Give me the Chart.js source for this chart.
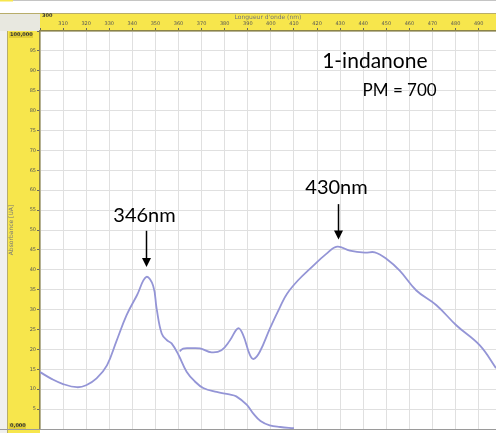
<!DOCTYPE html>
<html>
<head>
<meta charset="utf-8">
<script src="https://cdn.jsdelivr.net/npm/chart.js@4.4.0/dist/chart.umd.min.js"></script>
<style>
  html, body { margin: 0; padding: 0; background: #fff; overflow: hidden; }
  #wrap { width: 496px; height: 433px; position: relative; }
</style>
</head>
<body>
<div id="wrap"><canvas id="spectrum" width="496" height="433"></canvas></div>
<script>
// lower branch (300 -> 410 nm)
const lowNm = [300, 305, 310, 316, 320, 324.5, 329, 333, 337.5, 342, 346, 349, 350.5, 352.7, 355, 357, 360, 363.5, 367, 370.7, 376.5, 382, 385, 389.5, 392.5, 395.5, 399.5, 404, 410];
const lowAbs = [14.3, 12.6, 11.3, 10.5, 11.0, 12.7, 16.0, 21.9, 28.6, 33.6, 38.2, 36.0, 30.3, 24.0, 22.3, 21.5, 18.6, 14.4, 12.0, 10.3, 9.3, 8.7, 8.2, 6.1, 3.8, 2.0, 0.9, 0.5, 0.2];

// upper branch (360 -> 497 nm)
const highNm = [360.5, 362, 365, 369.3, 374.3, 378.6, 382.3, 385.8, 388, 390.9, 392.6, 395.2, 399.6, 404, 407, 412, 417, 424, 428.7, 434.2, 440.7, 445, 450, 455.8, 463, 471.7, 480.4, 490.5, 497.5];
const highAbs = [19.5, 20.2, 20.3, 20.25, 19.25, 19.8, 22.3, 25.3, 23.6, 18.6, 17.6, 19.4, 25.3, 30.7, 34.0, 37.5, 40.3, 44.0, 45.8, 44.8, 44.3, 44.4, 42.8, 39.8, 34.8, 31.1, 26.0, 21.0, 15.3];

const xMin = 300, xMax = 497.5;
const yMin = 0, yMax = 100;
const xTicks = [300, 310, 320, 330, 340, 350, 360, 370, 380, 390, 400, 410, 420, 430, 440, 450, 460, 470, 480, 490];
const yTicks = [0, 5, 10, 15, 20, 25, 30, 35, 40, 45, 50, 55, 60, 65, 70, 75, 80, 85, 90, 95, 100];
const xTitle = "Longueur d'onde (nm)";
const yTitle = 'Absorbance [UA]';
const yEndLabels = ['100,000', '0,000'];

const peakLabels = ['346nm', '430nm'];
const peakX = [346, 429];
const arrowTop = [49.8, 56.5];
const arrowTip = [40.7, 47.6];
const labelY = [53.6, 60.6];

const yellow = '#f7e64c';
const lineColor = '#9495d6';

const toPts = (xs, ys) => xs.map((x, i) => ({ x: x, y: ys[i] }));

const framePlugin = {
  id: 'frame',
  beforeDraw(chart) {
    const { ctx, chartArea: a, width, height } = chart;
    ctx.save();
    ctx.fillStyle = '#fff';
    ctx.fillRect(0, 0, width, height);
    ctx.fillStyle = '#c4c4c4';
    ctx.fillRect(0, 0, width, 1);
    ctx.fillStyle = yellow;
    ctx.fillRect(0, 0, 13, 1.5);
    // corner box + left margin
    ctx.fillStyle = '#e8e8e0';
    ctx.fillRect(0, 13, a.left, a.top - 13);
    ctx.fillStyle = '#f0f0ee';
    ctx.fillRect(0, a.top, 7, height - a.top);
    // yellow axis bands
    ctx.fillStyle = yellow;
    ctx.fillRect(a.left, 13, width - a.left, a.top - 13);
    ctx.fillRect(7, a.top, a.left - 7, height - a.top);
    ctx.strokeStyle = '#b8ad6a';
    ctx.lineWidth = 1;
    ctx.beginPath();
    ctx.moveTo(7.5, a.top); ctx.lineTo(7.5, height);
    ctx.moveTo(0, 13.5); ctx.lineTo(width, 13.5);
    ctx.stroke();
    ctx.restore();
  },
  afterDraw(chart) {
    const { ctx, chartArea: a, width, scales } = chart;
    const xs = scales.x, ys = scales.y;
    ctx.save();
    // axis end labels
    ctx.font = 'bold 5px "DejaVu Sans"';
    ctx.textBaseline = 'middle';
    ctx.textAlign = 'left';
    ctx.fillStyle = '#e2cf36';
    ctx.fillRect(9, a.top + 1, 24, 6);
    ctx.fillRect(9, a.bottom - 6, 17, 6);
    ctx.fillStyle = '#333';
    ctx.fillText(yEndLabels[0], 10, a.top + 4);
    ctx.fillText(yEndLabels[1], 10, a.bottom - 3);
    ctx.fillText(String(xMin), a.left + 2, 15.5);
    // bottom frame line
    ctx.strokeStyle = '#9a9a9a';
    ctx.lineWidth = 1;
    ctx.beginPath();
    ctx.moveTo(0, a.bottom + 0.5); ctx.lineTo(width, a.bottom + 0.5);
    ctx.stroke();

    // peak arrows and labels
    ctx.fillStyle = '#000';
    ctx.strokeStyle = '#000';
    ctx.lineWidth = 1.5;
    ctx.font = '20px Lato';
    ctx.textAlign = 'center';
    peakLabels.forEach((txt, i) => {
      const px = Math.round(xs.getPixelForValue(peakX[i])) + 0.5;
      const y0 = ys.getPixelForValue(arrowTop[i]);
      const y1 = ys.getPixelForValue(arrowTip[i]);
      ctx.beginPath();
      ctx.moveTo(px, y0); ctx.lineTo(px, y1 - 8);
      ctx.stroke();
      ctx.beginPath();
      ctx.moveTo(px - 4.5, y1 - 9);
      ctx.lineTo(px + 4.5, y1 - 9);
      ctx.lineTo(px, y1);
      ctx.closePath();
      ctx.fill();
      ctx.fillText(txt, px - 2, ys.getPixelForValue(labelY[i]));
    });

    // compound name
    ctx.textAlign = 'left';
    ctx.font = '21px Lato';
    ctx.fillText('1-indanone', xs.getPixelForValue(422.2), ys.getPixelForValue(92.5));
    ctx.font = '17px Lato';
    ctx.fillText('PM = 700', xs.getPixelForValue(439.7), ys.getPixelForValue(85));
    ctx.restore();
  }
};

const useTicks = (list) => (s) => { s.ticks = list.map(v => ({ value: v })); };

new Chart(document.getElementById('spectrum'), {
  type: 'line',
  data: {
    datasets: [{
      label: 'branch 1',
      data: toPts(lowNm, lowAbs),
      borderColor: lineColor,
      borderWidth: 1.8,
      pointRadius: 0,
      tension: 0.4
    }, {
      label: 'branch 2',
      data: toPts(highNm, highAbs),
      borderColor: lineColor,
      borderWidth: 1.8,
      pointRadius: 0,
      tension: 0.4
    }]
  },
  options: {
    responsive: false,
    animation: false,
    events: [],
    layout: { padding: { top: 13, left: 0, right: 0, bottom: 2 } },
    scales: {
      x: {
        type: 'linear',
        position: 'top',
        min: xMin,
        max: xMax,
        afterFit: (s) => { s.height = 18; },
        afterBuildTicks: useTicks(xTicks),
        ticks: {
          autoSkip: false,
          maxRotation: 0,
          padding: 1,
          color: '#555',
          font: { size: 5, family: 'DejaVu Sans' },
          callback: (v) => (v === xMin ? '' : v)
        },
        grid: { color: '#e0e0e0', tickColor: '#666', tickLength: 3 },
        border: { color: '#8c8446', width: 1.5 },
        title: {
          display: true,
          text: xTitle,
          color: '#777',
          font: { size: 6, family: 'DejaVu Sans' },
          padding: { top: 1, bottom: 0 }
        }
      },
      y: {
        position: 'left',
        min: yMin,
        max: yMax,
        afterFit: (s) => { s.width = 40; },
        afterBuildTicks: useTicks(yTicks),
        ticks: {
          autoSkip: false,
          padding: 1,
          color: '#555',
          font: { size: 5, family: 'DejaVu Sans' },
          callback: (v) => (v === yMin || v === yMax ? '' : v)
        },
        grid: { color: '#e0e0e0', tickColor: '#666', tickLength: 3 },
        border: { color: '#8c8446', width: 1.5 },
        title: {
          display: true,
          text: yTitle,
          color: '#777',
          font: { size: 6, family: 'DejaVu Sans' },
          padding: { top: 8, bottom: 0 }
        }
      }
    },
    plugins: {
      legend: { display: false },
      tooltip: { enabled: false }
    }
  },
  plugins: [framePlugin]
});
</script>
</body>
</html>
